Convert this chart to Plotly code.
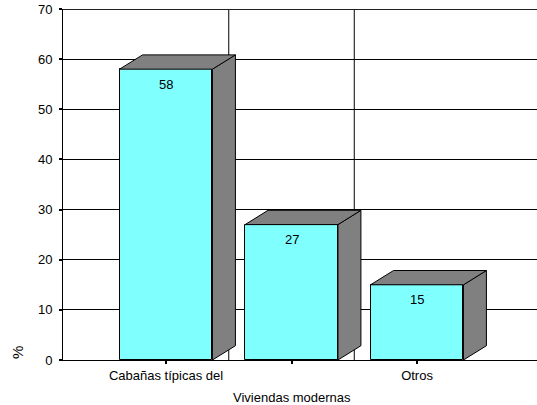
import plotly.graph_objects as go

# Survey result: housing type (%)
categories = ["Cabañas típicas del", "Viviendas modernas", "Otros"]
values = [58, 27, 15]
y_ticks = [0, 10, 20, 30, 40, 50, 60, 70]

FRONT = "#80FFFF"
SIDE = "#808080"
FONT = "Liberation Sans, Arial, sans-serif"

BAR_W = 0.74      # bar width in category units
DEPTH_X = 0.183   # 3D depth offset, category units
DEPTH_Y = 2.85    # 3D depth offset, value units

xpos = list(range(len(categories)))

fig = go.Figure()

# front faces
fig.add_trace(go.Bar(
    x=xpos, y=values, width=BAR_W,
    marker=dict(color=FRONT, line=dict(color="black", width=1)),
    hoverinfo="skip", showlegend=False,
))

# right side and top faces of each column
for x, v in zip(xpos, values):
    l, r = x - BAR_W / 2, x + BAR_W / 2
    side_x = [r, r + DEPTH_X, r + DEPTH_X, r, r]
    side_y = [0, DEPTH_Y, v + DEPTH_Y, v, 0]
    top_x = [l, l + DEPTH_X, r + DEPTH_X, r, l]
    top_y = [v, v + DEPTH_Y, v + DEPTH_Y, v, v]
    for px, py in ((side_x, side_y), (top_x, top_y)):
        fig.add_trace(go.Scatter(
            x=px, y=py, mode="lines", fill="toself", fillcolor=SIDE,
            line=dict(color="black", width=1), hoverinfo="skip",
            showlegend=False,
        ))

annotations = []
# value labels just under the top of each front face
for x, v in zip(xpos, values):
    annotations.append(dict(
        x=x, y=v, xref="x", yref="y", text=str(v), showarrow=False,
        yanchor="middle", yshift=-15,
        font=dict(family=FONT, size=13, color="black"),
    ))

# staggered category labels: odd ones go on a second row
ticktext = []
for i, c in enumerate(categories):
    if i % 2 == 0:
        ticktext.append(c)
    else:
        ticktext.append("")
        annotations.append(dict(
            x=i, y=0, xref="x", yref="y", text=c, showarrow=False,
            yanchor="middle", yshift=-37,
            font=dict(family=FONT, size=13, color="black"),
        ))

# axis title, rotated and sitting at the bottom
annotations.append(dict(
    x=-0.095, y=1.6, xref="paper", yref="y", text="%", showarrow=False,
    textangle=-90, xanchor="center", yanchor="middle",
    font=dict(family=FONT, size=15, color="black"),
))

# category separators on the wall
shapes = []
for i in range(len(categories) - 1):
    shapes.append(dict(
        type="line", xref="x", yref="paper", x0=i + 0.5, x1=i + 0.5,
        y0=0, y1=1, line=dict(color="black", width=1), layer="below",
    ))
# top border of the wall
shapes.append(dict(
    type="line", xref="paper", yref="y", x0=0, x1=1, y0=70, y1=70,
    line=dict(color="#202020", width=2), layer="below",
))

fig.update_layout(
    width=537, height=405,
    margin=dict(l=63, r=0, t=9, b=45),
    paper_bgcolor="white", plot_bgcolor="white",
    annotations=annotations, shapes=shapes,
    font=dict(family=FONT, size=13, color="black"),
    xaxis=dict(
        range=[-0.8207, 2.956], tickvals=xpos, ticktext=ticktext,
        ticks="outside", ticklen=3, tickwidth=2, tickcolor="black",
        showline=True, linecolor="black", linewidth=1,
        showgrid=False, zeroline=False, fixedrange=True,
        tickfont=dict(family=FONT, size=13, color="black"),
    ),
    yaxis=dict(
        range=[0, 70], tickvals=y_ticks,
        ticks="outside", ticklen=3, tickwidth=2, tickcolor="black",
        showline=True, linecolor="black", linewidth=1,
        showgrid=True, gridcolor="black", gridwidth=1,
        zeroline=False, fixedrange=True, ticklabelstandoff=4,
        tickfont=dict(family=FONT, size=13, color="black"),
    ),
    bargap=0,
)

fig.write_html("out.html")
